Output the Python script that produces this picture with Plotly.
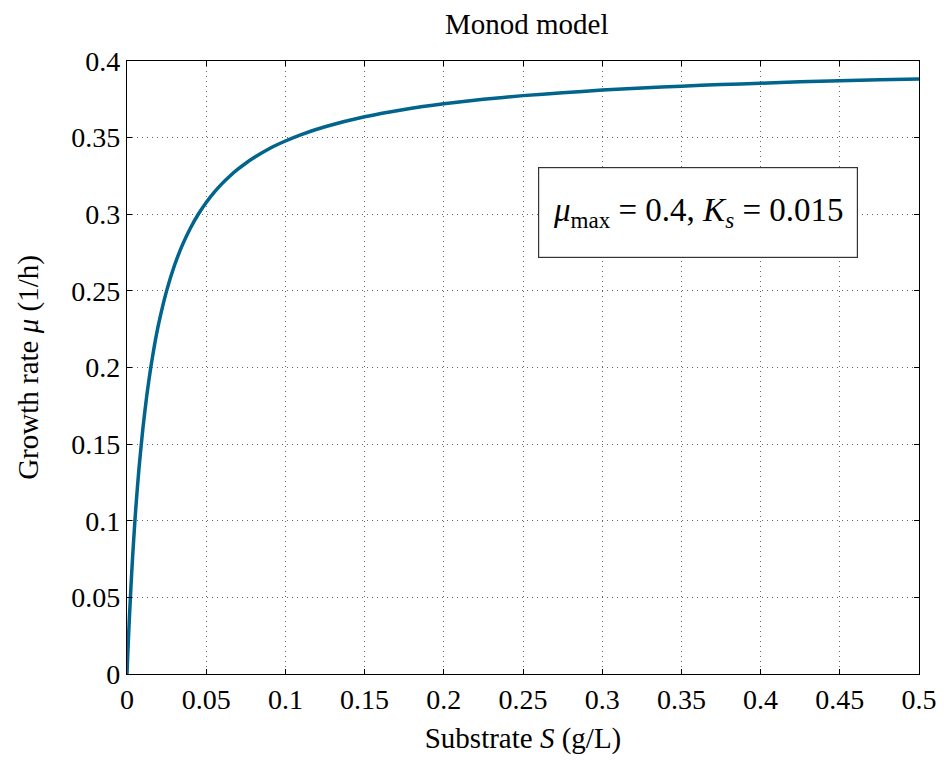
import plotly.graph_objects as go

# Substrate concentration S (g/L) and growth rate mu (1/h)
substrate = [0, 0.0005, 0.001, 0.0015, 0.0025, 0.0035, 0.005, 0.006, 0.0075, 0.01, 0.0125, 0.015,
             0.0175, 0.02, 0.025, 0.03, 0.035, 0.04, 0.045, 0.05, 0.055, 0.06, 0.065, 0.07,
             0.075, 0.08, 0.09, 0.1, 0.11, 0.125, 0.15, 0.175, 0.2, 0.225, 0.25, 0.275,
             0.3, 0.325, 0.35, 0.375, 0.4, 0.425, 0.45, 0.475, 0.5]
growth = [0, 0.0129, 0.0250, 0.0364, 0.0571, 0.0757, 0.1000, 0.1143, 0.1333, 0.1600, 0.1818, 0.2000,
          0.2154, 0.2286, 0.2500, 0.2667, 0.2800, 0.2909, 0.3000, 0.3077, 0.3143, 0.3200, 0.3250, 0.3294,
          0.3333, 0.3368, 0.3429, 0.3478, 0.3520, 0.3571, 0.3636, 0.3684, 0.3721, 0.3750, 0.3774, 0.3793,
          0.3810, 0.3824, 0.3836, 0.3846, 0.3855, 0.3864, 0.3871, 0.3878, 0.3883]

x_ticks = [0, 0.05, 0.1, 0.15, 0.2, 0.25, 0.3, 0.35, 0.4, 0.45, 0.5]
x_labels = ["0", "0.05", "0.1", "0.15", "0.2", "0.25", "0.3", "0.35", "0.4", "0.45", "0.5"]
y_ticks = [0, 0.05, 0.1, 0.15, 0.2, 0.25, 0.3, 0.35, 0.4]
y_labels = ["0", "0.05", "0.1", "0.15", "0.2", "0.25", "0.3", "0.35", "0.4"]

FONT = "Liberation Serif"

fig = go.Figure()
fig.add_trace(go.Scatter(
    x=substrate, y=growth, mode="lines",
    line=dict(color="#00648c", width=3.5, shape="spline", smoothing=0.5),
    showlegend=False, hoverinfo="skip",
))

axis_common = dict(
    showline=True, linecolor="black", linewidth=1.2, mirror="ticks",
    ticks="inside", ticklen=5, tickcolor="black", tickwidth=1,
    showgrid=True, gridcolor="#666666", gridwidth=1, griddash="1px,4px",
    zeroline=False, tickfont=dict(family=FONT, size=28, color="black"),
)

fig.update_xaxes(range=[0, 0.5], tickvals=x_ticks, ticktext=x_labels,
                 title=dict(text="Substrate <i>S</i> (g/L)", font=dict(family=FONT, size=29, color="black"), standoff=13),
                 **axis_common)
fig.update_yaxes(range=[0, 0.4], tickvals=y_ticks, ticktext=y_labels,
                 title=dict(text="Growth rate <i>μ</i> (1/h)", font=dict(family=FONT, size=29, color="black"), standoff=24),
                 **axis_common)

fig.add_annotation(
    xref="paper", yref="paper", x=0.721, y=0.753,
    text="<i>μ</i><sub>max</sub> = 0.4, <i>K<sub>s</sub></i> = 0.015",
    showarrow=False, font=dict(family=FONT, size=33, color="black"),
    bordercolor="#333333", borderwidth=1.2, borderpad=10, bgcolor="white",
    width=298, height=69, xanchor="center", yanchor="middle",
)

fig.update_layout(
    width=949, height=760,
    margin=dict(l=127, r=23, t=61, b=83),
    paper_bgcolor="white", plot_bgcolor="white",
    title=dict(text="Monod model", x=0.555, xanchor="center", y=0.968, yanchor="middle",
               font=dict(family=FONT, size=29, color="black")),
    font=dict(family=FONT, color="black"),
)

fig.write_html("out.html")
